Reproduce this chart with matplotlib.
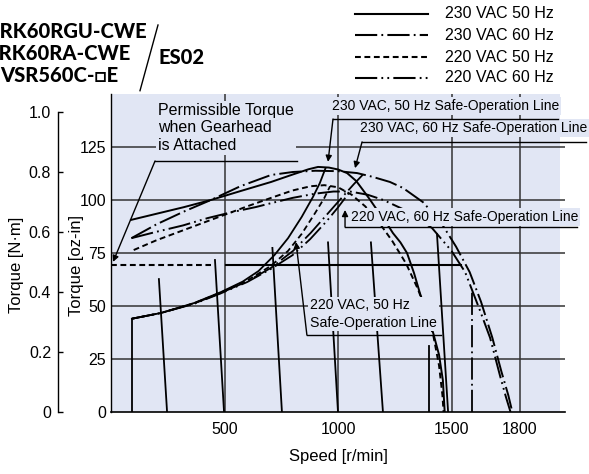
import matplotlib
matplotlib.use('Agg')
import matplotlib.pyplot as plt
from matplotlib.lines import Line2D

plt.rcParams['font.family'] = ['Liberation Sans', 'DejaVu Sans']
plt.rcParams['lines.scale_dashes'] = False

# speed [r/min] / torque [oz-in]
st_230_50_speed = [88, 200, 320, 440, 570, 705, 800, 870, 912, 960, 1000, 1040, 1080, 1110, 1140,
                   1172, 1210, 1242, 1275, 1304, 1335, 1361, 1390, 1420, 1445, 1462, 1470]
st_230_50_torque = [90.6, 93.5, 96.6, 100, 104.2, 108.5, 112, 114.5, 115.6, 115.3, 114.4, 112.7, 109,
                    104.7, 100.3, 95.3, 89.8, 84.4, 80, 75, 65.5, 56, 47, 37, 27, 15, 0]

st_230_60_speed = [90, 200, 320, 440, 570, 705, 800, 900, 1000, 1084, 1150, 1229, 1286, 1374, 1450,
                   1520, 1580, 1630, 1680, 1720, 1750, 1768]
st_230_60_torque = [82, 88.5, 94.5, 100, 106.5, 111.8, 113.2, 113.8, 113.6, 112.7, 111, 108.5, 105.7,
                    99, 90, 78, 66, 52, 35, 19, 8, 0]

st_220_50_speed = [100, 200, 300, 400, 500, 600, 705, 800, 880, 940, 1000, 1060, 1120, 1180, 1240,
                   1300, 1352, 1390, 1420, 1445, 1460, 1465]
st_220_50_torque = [76.4, 81, 85, 89, 93, 97, 101, 104.5, 106.5, 107, 106, 102.5, 97, 89.5, 80.5,
                    70, 58, 47, 36, 22, 8, 0]

st_220_60_speed = [90, 200, 317, 427, 530, 639, 705, 800, 900, 980, 1053, 1130, 1200, 1300, 1414,
                   1500, 1560, 1625, 1670, 1714, 1740, 1760]
st_220_60_torque = [82, 85, 88, 91.5, 94.2, 96.7, 98.5, 101, 103, 104, 104, 102.5, 100, 95, 86.8,
                    76, 66, 48, 35, 17, 7, 0]

# safe-operation lines
safe_230_50_speed = [92, 220, 366, 485, 580, 650, 720, 780, 840, 890, 920, 945]
safe_230_50_torque = [44, 46.7, 51.4, 56.6, 61.5, 66.5, 74, 82, 92, 101.5, 108, 115]
safe_220_50_speed = [92, 220, 366, 485, 600, 705, 780, 840, 900, 940, 965]
safe_220_50_torque = [44, 46.7, 51.3, 56.4, 62, 69, 76, 84, 94, 101, 106.5]
safe_230_60_speed = [92, 220, 366, 485, 600, 705, 802, 880, 950, 1020, 1070, 1110]
safe_230_60_torque = [44, 46.7, 51.2, 56.2, 61.6, 68, 76, 84.5, 93, 101.5, 107.5, 112]
safe_220_60_speed = [92, 220, 366, 485, 600, 705, 800, 877, 950, 1000, 1053]
safe_220_60_torque = [44, 46.7, 51, 56, 61.3, 67.5, 74, 81.5, 90, 96.5, 104]

# speed setting lines: (speed at 0, speed at top, torque at top)
set_lines = [(92, 92, 44), (247, 211, 62.7), (498, 458, 71.7), (753, 711, 77.4),
             (1000, 956, 80), (1198, 1145, 80), (1400, 1400, 31), (1485, 1436, 84)]
set_line_60 = (1590, 1590, 57.5)

permissible_torque = 69.3

x_ticks = [500, 1000, 1500, 1800]
y_ticks = [0, 25, 50, 75, 100, 125]
nm_ticks = [0, 0.2, 0.4, 0.6, 0.8, 1.0]
OZIN_PER_NM = 141.612

legend_labels = ['230 VAC 50 Hz', '230 VAC 60 Hz', '220 VAC 50 Hz', '220 VAC 60 Hz']

shade = '#e1e6f4'
grid_c = '#333333'
dashdot = (0, (16, 3, 1.3, 3))
dashdotdot = (0, (16, 3, 1.3, 3, 1.3, 3))
dashed = (0, (4.2, 2.6))
styles = ['-', dashdot, dashed, dashdotdot]

W, H = 589, 474
fig = plt.figure(figsize=(W / 100, H / 100), dpi=100)


def fx(x):
    return x / W


def fy(y):
    return 1 - y / H


ax = fig.add_axes([fx(111), fy(412), (565 - 111) / W, (412 - 94) / H])
ax.set_xlim(0, 2000)
ax.set_ylim(0, 150)
ax.set_facecolor('none')
ax.axvspan(0, 1978, color=shade, lw=0, zorder=0)
for s in ['top', 'right']:
    ax.spines[s].set_visible(False)
ax.spines['left'].set_linewidth(1.0)
ax.spines['bottom'].set_linewidth(1.2)

for t in y_ticks[1:]:
    ax.axhline(t, color=grid_c, lw=1.1, zorder=1)
for t in x_ticks:
    ax.axvline(t, color=grid_c, lw=1.1, zorder=1)

ax.set_xticks(x_ticks)
ax.set_yticks(y_ticks)
ax.tick_params(axis='x', length=0, pad=7, labelsize=11.5)
ax.tick_params(axis='y', length=0, pad=3.5, labelsize=11.5)
ax.set_xlabel('Speed [r/min]', fontsize=12, labelpad=9)

# speed-torque and safe-operation curves
curves = [(st_230_50_speed, st_230_50_torque), (st_230_60_speed, st_230_60_torque),
          (st_220_50_speed, st_220_50_torque), (st_220_60_speed, st_220_60_torque)]
safes = [(safe_230_50_speed, safe_230_50_torque), (safe_230_60_speed, safe_230_60_torque),
         (safe_220_50_speed, safe_220_50_torque), (safe_220_60_speed, safe_220_60_torque)]
for (sx, sy), ls in zip(curves, styles):
    ax.plot(sx, sy, color='k', lw=1.4, ls=ls, zorder=2)
for (sx, sy), ls in zip(safes, styles):
    ax.plot(sx, sy, color='k', lw=1.3, ls=ls, zorder=2)

for s0, s1, top in set_lines:
    ax.plot([s0, s1], [0, top], color='k', lw=1.3, zorder=2)
ax.plot([set_line_60[0], set_line_60[1]], [0, set_line_60[2]], color='k', lw=1.3,
        ls=dashdot, zorder=2)

# permissible torque with gearhead
ax.plot([0, 440], [permissible_torque] * 2, color='k', lw=1.5, ls=dashed, zorder=2.5)
ax.plot([505, 1540], [permissible_torque] * 2, color='k', lw=1.5, zorder=2.5)

box = dict(boxstyle='square,pad=0.12', fc=shade, ec='none')
arrow = dict(arrowstyle='-|>', color='k', lw=1.0, mutation_scale=9, shrinkA=0, shrinkB=0)
lk = dict(color='k', lw=1.0, zorder=4, clip_on=False)

ax.text(207, 134, 'Permissible Torque\nwhen Gearhead\nis Attached', fontsize=11.5,
        ha='left', va='center', linespacing=1.22, bbox=box, zorder=3)
ax.plot([194, 819], [118.4, 118.4], **lk)
ax.annotate('', xy=(9, 70.8), xytext=(194, 118.4), arrowprops=arrow, zorder=4)

ax.text(1474, 144.3, '230 VAC, 50 Hz Safe-Operation Line', fontsize=10, ha='center',
        va='center', bbox=box, zorder=3)
ax.plot([978, 1969], [138.2, 138.2], **lk)
ax.annotate('', xy=(956, 118), xytext=(978, 138.2), arrowprops=arrow, zorder=4)

ax.text(1599, 134, '230 VAC, 60 Hz Safe-Operation Line', fontsize=10, ha='center',
        va='center', bbox=box, zorder=3, clip_on=False)
ax.plot([1106, 2093], [127.4, 127.4], **lk)
ax.annotate('', xy=(1075, 115), xytext=(1106, 127.4), arrowprops=arrow, zorder=4)

ax.text(1557, 92, '220 VAC, 60 Hz Safe-Operation Line', fontsize=10, ha='center',
        va='center', bbox=box, zorder=3)
ax.plot([1031, 2053], [87.3, 87.3], **lk)
ax.annotate('', xy=(1031, 95.3), xytext=(1031, 87.3), arrowprops=arrow, zorder=4)

ax.text(877, 46.2, '220 VAC, 50 Hz\nSafe-Operation Line', fontsize=10.2, ha='left',
        va='center', linespacing=1.3, bbox=box, zorder=3)
ax.plot([863, 1454], [36.3, 36.3], **lk)
ax.annotate('', xy=(815, 80.2), xytext=(863, 36.3), arrowprops=arrow, zorder=4)

# N·m scale
ax2 = fig.add_axes([fx(58), fy(412), 0.001, (412 - 94) / H])
ax2.set_ylim(0, 150 / OZIN_PER_NM)
ax2.set_xticks([])
for s in ['top', 'right', 'bottom']:
    ax2.spines[s].set_visible(False)
ax2.spines['left'].set_bounds(0, 1.0)
ax2.spines['left'].set_linewidth(1.0)
ax2.set_yticks(nm_ticks)
ax2.set_yticklabels(['0', '0.2', '0.4', '0.6', '0.8', '1.0'])
ax2.tick_params(axis='y', direction='in', length=3.5, width=1.0, pad=5, labelsize=11.5)
ax2.patch.set_visible(False)

fig.text(fx(17), fy(265), 'Torque [N·m]', rotation=90, fontsize=12, ha='center', va='center')
fig.text(fx(76), fy(265), 'Torque [oz-in]', rotation=90, fontsize=12, ha='center', va='center')

# legend
leg_y = [14, 35, 57, 78]
for y, ls, lab in zip(leg_y, styles, legend_labels):
    fig.add_artist(Line2D([fx(355), fx(428)], [fy(y), fy(y)], color='k', lw=1.5, ls=ls,
                          transform=fig.transFigure))
    fig.text(fx(445), fy(y), lab, fontsize=11.5, ha='left', va='center')

# model names, the left edge runs off the sheet
bold = dict(fontsize=14.5, fontweight='black', family=['Lato', 'DejaVu Sans'], va='center')
fig.text(fx(147), fy(32), '5RK60RGU-CWE', ha='right', **bold)
fig.text(fx(130), fy(53.5), '5RK60RA-CWE', ha='right', **bold)
fig.text(fx(118), fy(75.5), 'VSR560C-□E', ha='right', **bold)
fig.text(fx(158), fy(57), 'ES02', ha='left', **bold)
fig.add_artist(Line2D([fx(158), fx(140)], [fy(25), fy(90.7)], color='k', lw=1.0,
                      transform=fig.transFigure))

fig.savefig('out.png', dpi=100)
